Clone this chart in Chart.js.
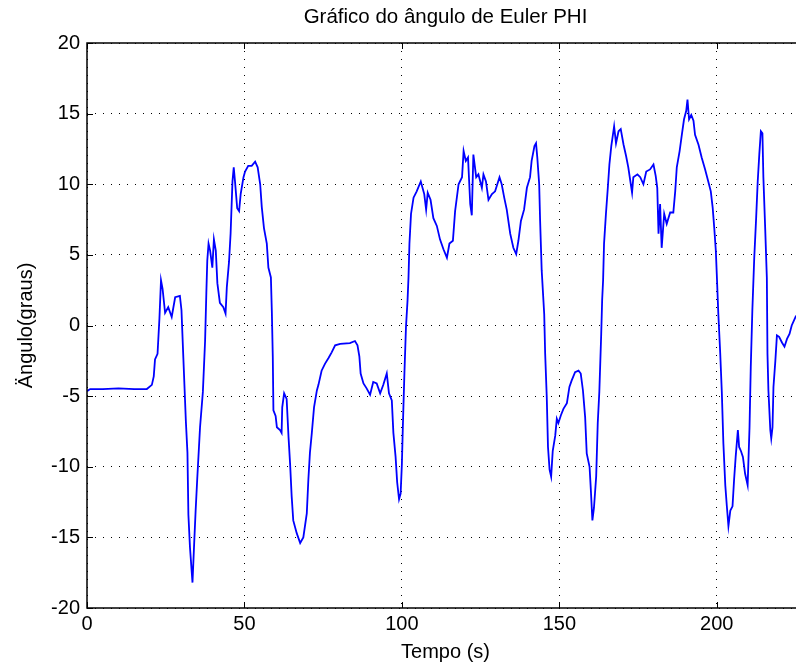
<!DOCTYPE html>
<html lang="pt">
<head>
<meta charset="utf-8">
<title>Ângulo de Euler PHI</title>
<script src="https://cdn.jsdelivr.net/npm/chart.js@4/dist/chart.umd.min.js"></script>
<style>
  html, body { margin: 0; padding: 0; background: #fff; overflow: hidden; }
  #phiChart { display: block; }
</style>
</head>
<body>
<canvas id="phiChart" width="804" height="668"></canvas>
<script>
// tempo (s) e ângulo phi (graus)
const tempo = [
  0, 1, 5, 10, 15, 19, 20.6, 21.2, 21.6, 22.4, 23, 23.5, 24, 24.8, 25.8, 26.9, 28, 29.5, 30,
  30.6, 31.4, 31.9, 32.2, 32.7, 33.5, 34, 34.5, 35, 35.9, 36.8, 37.5, 37.9, 38.2, 38.6, 39.1,
  39.8, 40.3, 40.9, 41.4, 42.2, 43.3, 44, 44.4, 45.1, 45.6, 46.2, 46.6, 47, 47.7, 48.3, 48.8,
  49.7, 50.2, 51.2, 52.3, 53.4, 54.2, 55, 55.5, 56.2, 57.1, 57.6, 58.4, 58.7, 59, 59.2, 59.9,
  60.3, 61.3, 61.8, 62, 62.6, 63.4, 64, 64.5, 65, 65.5, 66.6, 67.7, 68.7, 69.8, 70.3, 70.8,
  71.4, 72.1, 73, 73.5, 74.5, 75.6, 76.7, 77.7, 78.8, 80.4, 83.5, 85.1, 85.9, 86.5, 86.9,
  87.8, 88.8, 89.9, 90.9, 92, 93.1, 94.1, 95.2, 95.9, 96.8, 97.3, 98, 98.5, 99.1, 99.6, 100,
  100.3, 100.8, 101.3, 101.8, 102.1, 102.4, 102.9, 103.7, 104.7, 106, 107.1, 107.7, 108.2,
  109.1, 110, 111.1, 112.1, 113.2, 114.3, 115.1, 116.2, 116.9, 118, 119.1, 119.6, 120.3, 121,
  121.7, 122.2, 122.7, 123.6, 124.3, 125.4, 125.9, 126.7, 127.5, 128.6, 129.6, 131, 131.7,
  132.5, 133.3, 134.4, 135.4, 136.3, 137, 137.8, 138.8, 139.7, 140.7, 141.2, 142.1, 142.6,
  143, 143.6, 143.9, 144.4, 145.2, 145.5, 146, 146.4, 146.9, 147.4, 147.9, 148.7, 149.2,
  149.7, 150.5, 151.3, 152.4, 153.2, 153.9, 155, 156.1, 156.8, 157.5, 158.2, 158.7, 159.6,
  160, 160.5, 161, 161.7, 162.2, 162.7, 163.3, 163.6, 163.9, 164.2, 164.8, 165.4, 165.9,
  166.5, 167.4, 168, 168.8, 169.5, 170.4, 171.2, 171.9, 172.7, 173.1, 173.5, 174.8, 175.7,
  176.7, 177.6, 178.8, 179.9, 180.6, 181.1, 181.5, 182, 182.5, 183.3, 184.1, 185.2, 186.2,
  186.8, 187.3, 188.2, 188.9, 189.6, 190.3, 190.7, 191.2, 191.9, 192.6, 193.1, 194.2, 195.2,
  196.3, 197.3, 198.1, 198.7, 199.2, 199.7, 200, 200.5, 201.1, 201.6, 202.1, 202.7, 203.2,
  203.7, 204.3, 205, 205.5, 206, 206.7, 207.1, 207.7, 208.3, 209, 209.8, 210.4, 210.8, 211.3,
  211.9, 212.5, 213, 213.5, 214, 214.5, 214.8, 215.4, 215.9, 216.1, 216.4, 217, 217.3, 217.7,
  218, 218.6, 219.1, 219.8, 220.7, 221.5, 222.3, 223.1, 223.8, 225.2
];
const phi = [
  -4.65, -4.5, -4.5, -4.45, -4.5, -4.5, -4.2, -3.6, -2.4, -2.0, 0.5, 3.2, 2.6, 0.9, 1.3, 0.6, 2.0, 2.1, 1.1,
  -2.3, -6.8, -9.0, -13.4, -15.7, -18.2, -15.6, -13.1, -10.9, -7.2, -4.7, -1.1, 2.3, 4.6, 5.8, 5.3,
  4.1, 6.1, 5.3, 3.0, 1.6, 1.3, 0.85, 2.7, 4.5, 6.5, 10.2, 11.2, 10.2, 8.3, 8.1, 9.3,
  10.5, 10.9, 11.3, 11.3, 11.6, 11.2, 10.0, 8.4, 6.9, 5.8, 4.1, 3.4, 1.0, -2.2, -6.0, -6.4,
  -7.2, -7.4, -7.6, -5.8, -4.8, -5.2, -7.9, -9.8, -12.1, -13.8, -14.7, -15.4, -15.0, -13.3, -10.9, -9.0,
  -7.6, -5.8, -4.6, -4.2, -3.2, -2.7, -2.3, -1.9, -1.4, -1.3, -1.25, -1.1, -1.4, -2.2, -3.4,
  -4.1, -4.45, -4.9, -4.0, -4.1, -4.8, -4.2, -3.4, -4.8, -5.3, -7.6, -9.3, -11.1, -12.3, -11.9, -9.8,
  -7.2, -3.4, -0.1, 1.8, 3.4, 5.8, 7.9, 9.05, 9.5, 10.2, 9.3, 8.2, 9.4,
  8.9, 7.6, 7.05, 6.1, 5.4, 4.8, 5.8, 6.0, 8.1, 10.0, 10.5, 12.35, 11.65, 11.9,
  8.6, 7.8, 12.1, 10.5, 10.7, 9.75, 10.7, 10.2, 8.9, 9.3, 9.5, 10.5, 10.0,
  9.05, 8.2, 6.5, 5.5, 5.05, 6.0, 7.4, 8.2, 9.75, 10.5, 11.65, 12.7, 12.9,
  11.9, 10.0, 7.4, 3.9, 0.8, -2.0, -5.0, -8.6, -10.2, -10.7, -8.9, -7.8, -6.6,
  -6.9, -6.35, -5.9, -5.5, -4.35, -3.9, -3.3, -3.2, -3.4, -4.6, -6.5, -9.05, -10.0,
  -11.6, -13.8, -12.9, -10.7, -6.9, -4.7, -0.6, 1.8, 3.2, 5.8, 7.9, 9.75, 11.4,
  12.7, 14.1, 12.9, 13.75, 13.9, 12.8, 12.0, 11.2, 10.0, 9.4, 10.5, 10.7, 10.5,
  10.0, 10.9, 11.05, 11.4, 10.6, 9.75, 6.5, 8.6, 5.5, 7.9, 7.2, 8.0, 8.0,
  9.5, 11.2, 12.35, 13.5, 14.6, 15.2, 16.0, 14.6, 14.9, 14.5, 13.5, 12.8, 11.9,
  11.05, 10.2, 9.5, 8.35, 6.9, 5.3, 3.65, 0.8, -2.0, -4.7, -8.35, -11.3, -12.8,
  -14.2, -13.1, -12.8, -10.9, -9.3, -7.4, -8.6, -8.9, -9.3, -10.5, -11.3, -7.2, -2.9, 1.1,
  4.8, 7.6, 10.2, 12.1, 13.75, 13.6, 10.5, 6.7, 3.4, -2.0, -4.6, -7.4, -8.0, -7.2,
  -4.35, -2.5, -0.7, -0.8, -1.2, -1.5, -0.95, -0.6, 0.0, 0.7
];
const xTicks = [0, 50, 100, 150, 200];
const yTicks = [-20, -15, -10, -5, 0, 5, 10, 15, 20];

Chart.defaults.color = '#000';
Chart.defaults.font.family = "'Liberation Sans', Arial, sans-serif";

// caixa dos eixos com marcas de escala para dentro
const axesBox = {
  id: 'axesBox',
  afterDraw(chart) {
    const { ctx, chartArea: a, scales: { x, y } } = chart;
    const len = 6;
    ctx.save();
    ctx.strokeStyle = '#000';
    ctx.lineWidth = 1;
    ctx.beginPath();
    x.ticks.forEach(t => {
      const px = Math.round(x.getPixelForValue(t.value)) + 0.5;
      ctx.moveTo(px, a.bottom); ctx.lineTo(px, a.bottom - len);
      ctx.moveTo(px, a.top); ctx.lineTo(px, a.top + len);
    });
    y.ticks.forEach(t => {
      const py = Math.round(y.getPixelForValue(t.value)) + 0.5;
      ctx.moveTo(a.left, py); ctx.lineTo(a.left + len, py);
      ctx.moveTo(a.right, py); ctx.lineTo(a.right - len, py);
    });
    ctx.stroke();
    ctx.lineWidth = 1.5;
    ctx.strokeRect(a.left, a.top, a.right - a.left, a.bottom - a.top);
    ctx.restore();
  }
};

const dotted = { color: '#000', lineWidth: 1, drawTicks: false };

new Chart(document.getElementById('phiChart'), {
  type: 'line',
  data: {
    datasets: [{
      label: 'PHI',
      data: tempo.map((t, i) => ({ x: t, y: phi[i] })),
      borderColor: '#0000ff',
      borderWidth: 1.8,
      pointRadius: 0,
      tension: 0,
      fill: false
    }]
  },
  options: {
    responsive: false,
    animation: false,
    layout: { padding: 0 },
    plugins: {
      legend: { display: false },
      tooltip: { enabled: false },
      title: {
        display: true,
        fullSize: false,
        text: 'Gráfico do ângulo de Euler PHI',
        font: { size: 20.5, weight: 'normal' },
        padding: { top: 5, bottom: 13.4 }
      }
    },
    scales: {
      x: {
        type: 'linear',
        min: 0,
        max: 227.7,
        afterFit: s => { s.height = 60; },
        afterBuildTicks: s => { s.ticks = xTicks.map(v => ({ value: v })); },
        ticks: { font: { size: 20 }, padding: 4, maxRotation: 0 },
        grid: dotted,
        border: { display: false, dash: [1, 7] },
        title: {
          display: true,
          text: 'Tempo (s)',
          font: { size: 20 },
          padding: { top: 0, bottom: 4 }
        }
      },
      y: {
        min: -20,
        max: 20,
        afterFit: s => { s.width = 87; },
        afterBuildTicks: s => { s.ticks = yTicks.map(v => ({ value: v })); },
        ticks: { font: { size: 20 }, padding: 7 },
        grid: dotted,
        border: { display: false, dash: [1, 7] },
        title: {
          display: true,
          text: 'Ängulo(graus)',
          font: { size: 20 },
          padding: { top: 14, bottom: 0 }
        }
      }
    }
  },
  plugins: [axesBox]
});
</script>
</body>
</html>
